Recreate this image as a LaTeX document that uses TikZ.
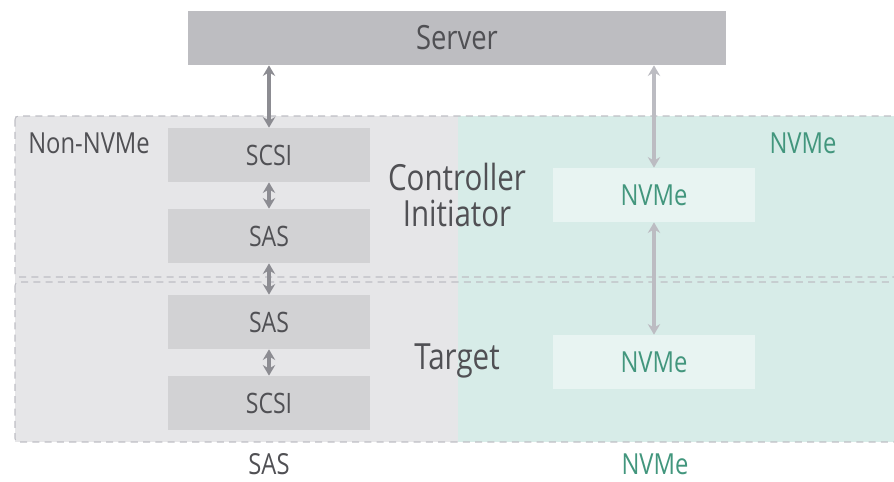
\documentclass[tikz,border=0pt]{standalone}
\usepackage{fontspec}
\setmainfont{Open Sans}[FakeStretch=0.82]
\usetikzlibrary{arrows.meta}
\definecolor{txtgray}{RGB}{80,80,84}
\definecolor{srvgray}{RGB}{189,189,193}
\definecolor{boxgray}{RGB}{210,210,212}
\definecolor{leftbg}{RGB}{230,230,232}
\definecolor{rightbg}{RGB}{215,236,232}
\definecolor{nvmebox}{RGB}{232,244,242}
\definecolor{nvmetxt}{RGB}{66,150,125}
\definecolor{dashgray}{RGB}{190,190,196}
\definecolor{arrowdark}{RGB}{140,140,146}
\definecolor{arrowlight}{RGB}{188,188,194}
\tikzset{
  layer/.style={fill=boxgray,text=txtgray,minimum width=4.04cm,minimum height=1.08cm,inner sep=0pt,font=\fontsize{16}{16}\selectfont},
  nvmelayer/.style={layer,fill=nvmebox,text=nvmetxt,font=\fontsize{16.5}{16.5}\selectfont},
  region/.style={draw=dashgray,dashed,dash pattern=on 4pt off 3pt,line width=0.6pt,rounded corners=2pt},
  link/.style={{Stealth[length=6pt,width=7pt]}-{Stealth[length=6pt,width=7pt]},line width=2pt,draw=arrowdark},
  linklight/.style={link,draw=arrowlight},
  big/.style={text=txtgray,font=\fontsize{20.5}{20}\selectfont},
  small/.style={text=txtgray,inner sep=0pt,font=\fontsize{16.5}{16.5}\selectfont}
}
\begin{document}
\begin{tikzpicture}[x=0.02cm,y=-0.02cm]
    \useasboundingbox (0,0) rectangle (894,481);
    % backgrounds
    \fill[leftbg] (15,116) rectangle (458,442);
    \fill[rightbg] (458,116) rectangle (900,442);
    \draw[region] (15,116) rectangle (905,277);
    \draw[region] (15,282) rectangle (905,442);
    % server
    \node[fill=srvgray,text=txtgray,minimum width=10.76cm,minimum height=1.08cm,inner sep=0pt,font=\fontsize{19}{19}\selectfont] (server) at (457,38) {Server};
    % SAS side
    \node[layer] (scsiA) at (269,155) {SCSI};
    \node[layer] (sasA) at (269,236) {SAS};
    \node[layer] (sasB) at (269,322) {SAS};
    \node[layer] (scsiB) at (269,403) {SCSI};
    % NVMe side
    \node[nvmelayer] (nvmeA) at (654,195) {NVMe};
    \node[nvmelayer] (nvmeB) at (654,362) {NVMe};
    % labels
    \node[small] (nonnvme) at (89,143) {Non-NVMe};
    \node[small,text=nvmetxt] (nvmelbl) at (803,143) {NVMe};
    \node[big,align=center] (ctrl) at (457,195) {Controller\\Initiator};
    \node[big] (target) at (457,361) {Target};
    \node[small] (saslbl) at (269,464) {SAS};
    \node[small,text=nvmetxt] (nvmebot) at (655,464) {NVMe};
    % links
    \draw[link] (server.south -| scsiA) -- (scsiA.north);
    \draw[link] (scsiA) -- (sasA);
    \draw[link] (sasA) -- (sasB);
    \draw[link] (sasB) -- (scsiB);
    \draw[linklight] (server.south -| nvmeA) -- (nvmeA.north);
    \draw[linklight] (nvmeA) -- (nvmeB);
\end{tikzpicture}
\end{document}
